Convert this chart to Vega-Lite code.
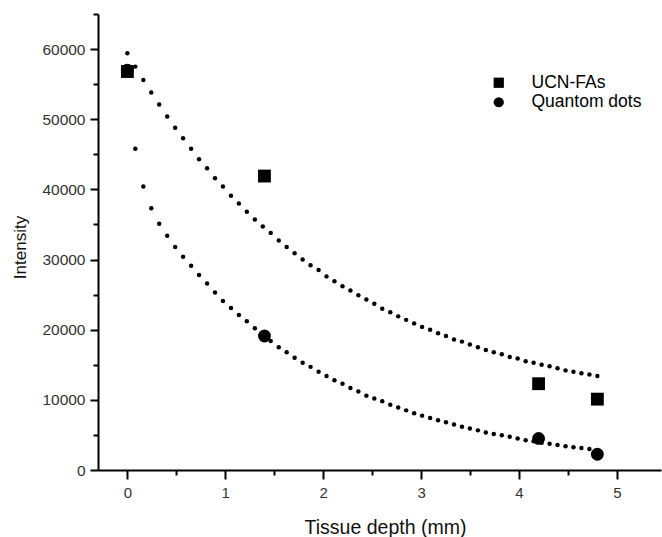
{
  "$schema": "https://vega.github.io/schema/vega-lite/v6.json",
  "width": 563,
  "height": 456,
  "autosize": {"type": "none"},
  "padding": {"left": 98, "top": 14, "right": 1, "bottom": 67},
  "background": "white",
  "config": {"view": {"stroke": null}, "font": "Liberation Sans"},
  "datasets": {
    "points": [
      {"d": 0, "v": 56800, "s": "UCN-FAs"},
      {"d": 1.4, "v": 41900, "s": "UCN-FAs"},
      {"d": 4.2, "v": 12300, "s": "UCN-FAs"},
      {"d": 4.8, "v": 10100, "s": "UCN-FAs"},
      {"d": 0, "v": 57000, "s": "Quantom dots"},
      {"d": 1.4, "v": 19100, "s": "Quantom dots"},
      {"d": 4.2, "v": 4500, "s": "Quantom dots"},
      {"d": 4.8, "v": 2250, "s": "Quantom dots"}
    ],
    "fit": [
      {"d": 0, "u": 59400, "q": 57000},
      {"d": 0.081, "u": 57500, "q": 45800},
      {"d": 0.163, "u": 55600, "q": 40400},
      {"d": 0.244, "u": 53800, "q": 37300},
      {"d": 0.325, "u": 52100, "q": 35100},
      {"d": 0.407, "u": 50400, "q": 33400},
      {"d": 0.488, "u": 48800, "q": 31800},
      {"d": 0.569, "u": 47300, "q": 30400},
      {"d": 0.651, "u": 45800, "q": 29100},
      {"d": 0.732, "u": 44300, "q": 27800},
      {"d": 0.814, "u": 43000, "q": 26600},
      {"d": 0.895, "u": 41600, "q": 25300},
      {"d": 0.976, "u": 40400, "q": 24100},
      {"d": 1.058, "u": 39100, "q": 23100},
      {"d": 1.139, "u": 38000, "q": 22100},
      {"d": 1.22, "u": 36800, "q": 21200},
      {"d": 1.302, "u": 35700, "q": 20200},
      {"d": 1.383, "u": 34700, "q": 19200},
      {"d": 1.464, "u": 33800, "q": 18400},
      {"d": 1.546, "u": 32700, "q": 17500},
      {"d": 1.627, "u": 31800, "q": 16800},
      {"d": 1.708, "u": 30900, "q": 16000},
      {"d": 1.79, "u": 30000, "q": 15300},
      {"d": 1.871, "u": 29200, "q": 14700},
      {"d": 1.953, "u": 28500, "q": 14000},
      {"d": 2.034, "u": 27600, "q": 13400},
      {"d": 2.115, "u": 26900, "q": 12800},
      {"d": 2.197, "u": 26200, "q": 12300},
      {"d": 2.278, "u": 25600, "q": 11700},
      {"d": 2.359, "u": 24900, "q": 11200},
      {"d": 2.441, "u": 24300, "q": 10600},
      {"d": 2.522, "u": 23700, "q": 10200},
      {"d": 2.603, "u": 23000, "q": 9800},
      {"d": 2.685, "u": 22500, "q": 9300},
      {"d": 2.766, "u": 21900, "q": 8900},
      {"d": 2.847, "u": 21400, "q": 8500},
      {"d": 2.929, "u": 20900, "q": 8100},
      {"d": 3.01, "u": 20400, "q": 7750},
      {"d": 3.092, "u": 20000, "q": 7400},
      {"d": 3.173, "u": 19500, "q": 7100},
      {"d": 3.254, "u": 19100, "q": 6800},
      {"d": 3.336, "u": 18600, "q": 6500},
      {"d": 3.417, "u": 18300, "q": 6150},
      {"d": 3.498, "u": 17900, "q": 5900},
      {"d": 3.58, "u": 17500, "q": 5650},
      {"d": 3.661, "u": 17100, "q": 5350},
      {"d": 3.742, "u": 16800, "q": 5120},
      {"d": 3.824, "u": 16500, "q": 4950},
      {"d": 3.905, "u": 16100, "q": 4750},
      {"d": 3.986, "u": 15900, "q": 4500},
      {"d": 4.068, "u": 15500, "q": 4250},
      {"d": 4.149, "u": 15300, "q": 4100},
      {"d": 4.231, "u": 15000, "q": 3900},
      {"d": 4.312, "u": 14800, "q": 3750},
      {"d": 4.393, "u": 14500, "q": 3550},
      {"d": 4.475, "u": 14200, "q": 3400},
      {"d": 4.556, "u": 14000, "q": 3250},
      {"d": 4.637, "u": 13800, "q": 3150},
      {"d": 4.719, "u": 13600, "q": 3000},
      {"d": 4.8, "u": 13400, "q": 2800}
    ]
  },
  "layer": [
    {
      "data": {"name": "fit"},
      "mark": {"type": "point", "filled": true, "shape": "circle", "size": 20, "color": "black", "opacity": 1},
      "encoding": {
        "x": {
          "field": "d", "type": "quantitative",
          "scale": {"domain": [-0.3, 5.45], "nice": false, "zero": false},
          "axis": {"orient": "bottom", "values": [0.5, 1.5, 2.5, 3.5, 4.5], "tickSize": 5, "tickWidth": 2, "tickColor": "black", "labels": false, "domain": false, "grid": false, "title": null}
        },
        "y": {
          "field": "u", "type": "quantitative",
          "scale": {"domain": [0, 65000], "nice": false, "zero": false},
          "axis": {"orient": "left", "values": [5000, 15000, 25000, 35000, 45000, 55000, 65000], "tickSize": 5, "tickWidth": 2, "tickColor": "black", "labels": false, "domain": false, "grid": false, "title": null}
        }
      }
    },
    {
      "data": {"name": "fit"},
      "mark": {"type": "point", "filled": true, "shape": "circle", "size": 20, "color": "black", "opacity": 1},
      "encoding": {
        "x": {"field": "d", "type": "quantitative", "axis": null},
        "y": {"field": "q", "type": "quantitative", "axis": null}
      }
    },
    {
      "data": {"name": "points"},
      "mark": {"type": "point", "filled": true, "size": 165, "color": "black", "opacity": 1},
      "encoding": {
        "x": {
          "field": "d", "type": "quantitative",
          "axis": {"orient": "bottom", "values": [0, 1, 2, 3, 4, 5], "format": "d", "tickSize": 9, "tickWidth": 2, "tickColor": "black", "domain": true, "domainWidth": 2, "domainColor": "black", "grid": false,
            "labelFont": "Liberation Sans Narrow, Liberation Sans", "labelFontSize": 15, "labelColor": "#333", "labelPadding": 6,
            "title": "Tissue depth (mm)", "titleFont": "Liberation Sans", "titleFontSize": 19.5, "titleFontWeight": "normal", "titleColor": "#111", "titleX": 287, "titleY": 63, "titleBaseline": "alphabetic", "titleAlign": "center"}
        },
        "y": {
          "field": "v", "type": "quantitative",
          "axis": {"orient": "left", "values": [0, 10000, 20000, 30000, 40000, 50000, 60000], "format": "d", "tickSize": 8, "tickWidth": 2, "tickColor": "black", "domain": true, "domainWidth": 2, "domainColor": "black", "grid": false,
            "labelFont": "Liberation Sans", "labelFontSize": 15.5, "labelColor": "#333", "labelPadding": 5,
            "title": "Intensity", "titleFont": "Liberation Sans", "titleFontSize": 17, "titleFontWeight": "normal", "titleColor": "#111", "titleX": -73, "titleY": 233, "titleAngle": 270, "titleBaseline": "alphabetic", "titleAlign": "center"}
        },
        "shape": {
          "field": "s", "type": "nominal",
          "scale": {"domain": ["UCN-FAs", "Quantom dots"], "range": ["square", "circle"]},
          "legend": {"title": null, "orient": "none", "legendX": 392, "legendY": 60, "padding": 0, "symbolSize": 105, "symbolFillColor": "black", "symbolStrokeWidth": 0,
            "labelFont": "Liberation Sans", "labelFontSize": 17.5, "labelColor": "black", "labelOffset": 24, "rowPadding": 0.5}
        }
      }
    }
  ],
  "resolve": {"axis": {"x": "independent", "y": "independent"}}
}
